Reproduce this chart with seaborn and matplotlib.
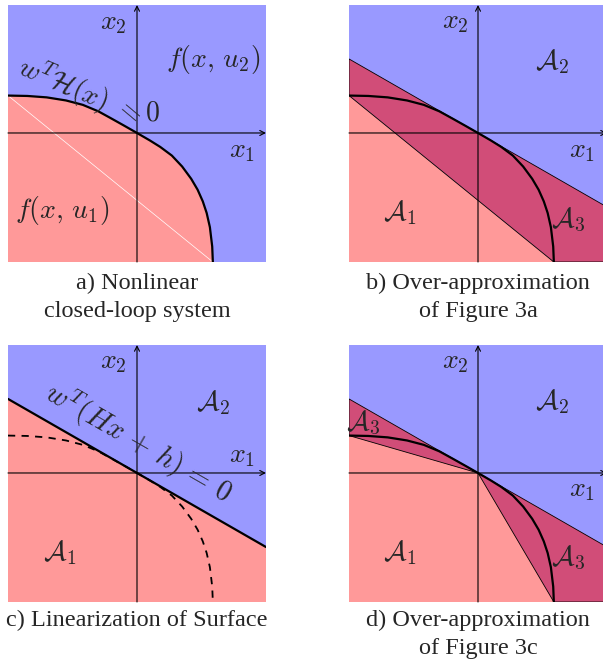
import numpy as np
import matplotlib
matplotlib.use("Agg")
import matplotlib.pyplot as plt
import seaborn as sns

sns.set_theme(style="white")
plt.rcParams["mathtext.fontset"] = "cm"
plt.rcParams["font.family"] = ["Liberation Serif", "DejaVu Serif"]

# ---- data (axis units: panel spans [-1, 1]) ----
curve_x = [-1.00, -0.85, -0.70, -0.55, -0.42, -0.30, -0.20, -0.10, 0.00, 0.10,
           0.18, 0.27, 0.35, 0.42, 0.47, 0.51, 0.54, 0.565, 0.583, 0.588]
curve_y = [0.290, 0.287, 0.276, 0.252, 0.218, 0.168, 0.113, 0.057, 0.000, -0.058,
           -0.108, -0.175, -0.260, -0.355, -0.440, -0.530, -0.620, -0.730, -0.880, -1.000]
tangent_x = [-1.0, 1.0]
tangent_y = [0.574, -0.574]
chord_x = [-1.0, 0.588]          # chord between the curve's end points
chord_y = [0.290, -1.0]

captions = {
    "a": ["a) Nonlinear", "closed-loop system"],
    "b": ["b) Over-approximation", "of Figure 3a"],
    "c": ["c) Linearization of Surface"],
    "d": ["d) Over-approximation", "of Figure 3c"],
}

BLUE = "#9999ff"
PINK = "#ff9999"
DARK = "#d14d78"

W, H = 603, 669
fig = plt.figure(figsize=(W / 100, H / 100), dpi=100)


def make_ax(left_px, top_px):
    ax = fig.add_axes([left_px / W, 1 - (top_px + 257) / H, 258 / W, 257 / H])
    ax.set_xlim(-1, 1)
    ax.set_ylim(-1, 0.992)
    ax.set_axis_off()
    ax.fill([-1, 1, 1, -1], [-1, -1, 1, 1], color=BLUE, lw=0, zorder=0)
    return ax


def draw_axes_arrows(ax):
    kw = dict(arrowstyle="->", lw=0.8, color="black", shrinkA=0, shrinkB=0,
              mutation_scale=9)
    ax.annotate("", xy=(1.0, 0), xytext=(-1, 0), arrowprops=kw, zorder=4,
                annotation_clip=False)
    ax.annotate("", xy=(0, 0.992), xytext=(0, -1), arrowprops=kw, zorder=4,
                annotation_clip=False)


MF = 20

def lab(ax, x, y, s, rot=0, size=MF):
    ax.text(x, y, s, ha="center", va="center", fontsize=size, rotation=rot,
            rotation_mode="anchor", zorder=6)


def finish(ax):
    ax.set_xlim(-1, 1)
    ax.set_ylim(-1, 0.992)


# ---------------- panel a ----------------
ax = make_ax(8, 5)
ax.fill(list(curve_x) + [-1], list(curve_y) + [-1], color=PINK, lw=0, zorder=1)
sns.lineplot(x=chord_x, y=chord_y, sort=False, estimator=None, ax=ax,
             color="white", lw=0.5, zorder=2)
draw_axes_arrows(ax)
sns.lineplot(x=curve_x, y=curve_y, sort=False, estimator=None, ax=ax,
             color="black", lw=1.6, zorder=5)
lab(ax, -0.186, 0.845, r"$x_2$")
lab(ax, 0.814, -0.14, r"$x_1$")
lab(ax, 0.589, 0.566, r"$f(x,\,u_2)$")
lab(ax, -0.581, -0.597, r"$f(x,\,u_1)$")
lab(ax, -0.575, 0.375, r"$w^T\mathcal{H}(x)$", rot=-23)
lab(ax, -0.06, 0.175, r"$=$", rot=-40)
lab(ax, 0.12, 0.15, r"$0$")
finish(ax)

# ---------------- panel b ----------------
ax = make_ax(349, 5)
ax.fill([-1, chord_x[1], -1], [chord_y[0], -1, -1], color=PINK, lw=0, zorder=1)
ax.fill([tangent_x[0], tangent_x[1], 1, chord_x[1], chord_x[0]],
        [tangent_y[0], tangent_y[1], -1, -1, chord_y[0]],
        facecolor=DARK, edgecolor="black", lw=0.6, zorder=2)
draw_axes_arrows(ax)
sns.lineplot(x=curve_x, y=curve_y, sort=False, estimator=None, ax=ax,
             color="black", lw=1.6, zorder=5)
lab(ax, -0.178, 0.853, r"$x_2$")
lab(ax, 0.806, -0.147, r"$x_1$")
lab(ax, 0.574, 0.55, r"$\mathcal{A}_2$")
lab(ax, -0.605, -0.62, r"$\mathcal{A}_1$")
lab(ax, 0.698, -0.674, r"$\mathcal{A}_3$")
finish(ax)

# ---------------- panel c ----------------
ax = make_ax(8, 345)
ax.fill([tangent_x[0], tangent_x[1], 1, -1], [tangent_y[0], tangent_y[1], -1, -1],
        color=PINK, lw=0, zorder=1)
draw_axes_arrows(ax)
sns.lineplot(x=curve_x, y=curve_y, sort=False, estimator=None, ax=ax,
             color="black", lw=1.3, linestyle=(0, (4, 3.5)), zorder=3)
sns.lineplot(x=tangent_x, y=tangent_y, sort=False, estimator=None, ax=ax,
             color="black", lw=1.6, zorder=5)
lab(ax, -0.186, 0.853, r"$x_2$")
lab(ax, 0.814, 0.124, r"$x_1$")
lab(ax, 0.589, 0.543, r"$\mathcal{A}_2$")
lab(ax, -0.597, -0.62, r"$\mathcal{A}_1$")
lab(ax, 0.01, 0.235, r"$w^T(Hx\,+\,h)\,=\,0$", rot=-29.9, size=20.5)
finish(ax)

# ---------------- panel d ----------------
ax = make_ax(349, 345)
ax.fill([tangent_x[0], tangent_x[1], 1, -1], [tangent_y[0], tangent_y[1], -1, -1],
        color=PINK, lw=0, zorder=1)
ax.fill([tangent_x[0], 0, chord_x[0]], [tangent_y[0], 0, chord_y[0]],
        facecolor=DARK, edgecolor="black", lw=0.6, zorder=2)
ax.fill([0, tangent_x[1], 1, chord_x[1]], [0, tangent_y[1], -1, chord_y[1]],
        facecolor=DARK, edgecolor="black", lw=0.6, zorder=2)
draw_axes_arrows(ax)
sns.lineplot(x=curve_x, y=curve_y, sort=False, estimator=None, ax=ax,
             color="black", lw=1.6, zorder=5)
lab(ax, -0.178, 0.853, r"$x_2$")
lab(ax, 0.806, -0.132, r"$x_1$")
lab(ax, 0.574, 0.55, r"$\mathcal{A}_2$")
lab(ax, -0.605, -0.62, r"$\mathcal{A}_1$")
lab(ax, -0.891, 0.388, r"$\mathcal{A}_3$")
lab(ax, 0.698, -0.659, r"$\mathcal{A}_3$")
finish(ax)

# ---------------- captions ----------------
CF = 17.5
cap_pos = {"a": (137, 283), "b": (478, 283), "c": (137, 620), "d": (478, 620)}
for k, lines in captions.items():
    cx, cy = cap_pos[k]
    for i, t in enumerate(lines):
        fig.text(cx / W, 1 - (cy + 28.5 * i) / H, t, ha="center", va="center",
                 fontsize=CF)

fig.savefig("out.png", dpi=100)
